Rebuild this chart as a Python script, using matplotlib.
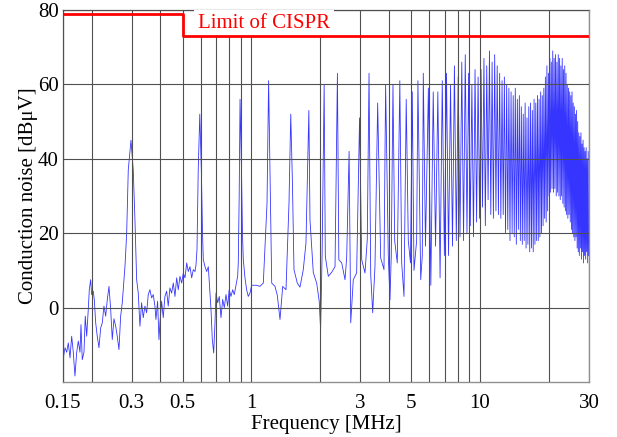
import numpy as np
import matplotlib
matplotlib.use("Agg")
import matplotlib.pyplot as plt

plt.rcParams['font.family'] = ['Liberation Serif', 'DejaVu Serif']

# fundamental of the harmonic series [MHz]
f0 = 0.2975

# top of every harmonic, n = 1..100 [dBuV]
peak_db = [45, 52, 56, 61, 52, 53, 60, 63, 42, 51,
           63, 55, 60, 60, 61, 56, 58, 61, 63, 59,
           58, 58, 61, 63, 60, 65, 62, 66, 68, 63,
           60, 64, 62, 64, 67, 65, 69, 66, 68, 65,
           63, 61, 62, 60, 59, 58, 57, 59, 56, 57,
           54, 52, 55, 51, 54, 55, 53, 56, 55, 57,
           56, 58, 57, 59, 62, 65, 63, 67, 66, 69,
           67, 68, 66, 68, 67, 65, 67, 64, 65, 63,
           60, 59, 58, 57, 58, 55, 54, 52, 53, 50,
           47, 46, 47, 44, 45, 43, 42, 43, 40, 42]

# noise floor between the lower harmonics
floor_mhz = [0.1505, 0.1531, 0.1557, 0.1582, 0.1610, 0.1637, 0.1664, 0.1692, 0.1722, 0.1750,
             0.1780, 0.1798, 0.1821, 0.1853, 0.1877, 0.1904, 0.1935, 0.1955, 0.1982, 0.2002,
             0.2035, 0.2056, 0.2085, 0.2118, 0.2155, 0.2192, 0.2228, 0.2266, 0.2306, 0.2343,
             0.2384, 0.2425, 0.2464, 0.2506, 0.2550, 0.2591, 0.2636, 0.2681, 0.2725, 0.2752,
             0.2800, 0.2849, 0.2895,
             0.3044, 0.3096, 0.3150, 0.3201, 0.3256, 0.3311, 0.3366, 0.3424, 0.3484, 0.3540,
             0.3601, 0.3663, 0.3723, 0.3787, 0.3825, 0.3890, 0.3943, 0.3983, 0.4051, 0.4117,
             0.4188, 0.4261, 0.4330, 0.4404, 0.4480, 0.4555, 0.4634, 0.4714, 0.4790, 0.4873,
             0.4957, 0.5040, 0.5127, 0.5215, 0.5300, 0.5391, 0.5484, 0.5574, 0.5670, 0.5727,
             0.5785, 0.5857,
             0.6044, 0.6115, 0.6164, 0.6271, 0.6376, 0.6483, 0.6594, 0.6661, 0.6749, 0.6844,
             0.6935, 0.7005, 0.7124, 0.7242, 0.7367, 0.7494, 0.7616, 0.7747, 0.7878, 0.8002,
             0.8147, 0.8288, 0.8422, 0.8567, 0.8712, 0.8768, 0.8848,
             0.9055, 0.9145, 0.9220, 0.9380, 0.9537, 0.9696, 0.9864, 1.0034, 1.0197, 1.0548,
             1.0909, 1.1282, 1.1711,
             1.2069, 1.2278, 1.2693, 1.299, 1.3348, 1.3717, 1.4178, 1.4612,
             1.5134, 1.5367, 1.5886, 1.6323, 1.6875, 1.734,
             1.8052, 1.8668, 1.931, 1.9815, 2.0094, 2.0403,
             2.1069, 2.1716, 2.2471, 2.3235,
             2.414, 2.4855, 2.5692, 2.6125,
             2.7216, 2.7927, 2.8887,
             3.039, 3.1417, 3.2152,
             3.328, 3.395, 3.4743,
             3.6795, 3.8046,
             3.973, 4.0415, 4.0943,
             4.2378, 4.35,
             4.547, 4.654,
             4.86, 4.969,
             5.147, 5.2866,
             5.507, 5.5965,
             5.7788]
floor_db = [-13.5, -10.8, -12, -9.5, -13.5, -7.7, -12, -18.4, -12, -9,
            -12, -4.6, -14, -12, -2.3, -7.7, -0.5, 4.8, 7.5, 3.5,
            4.4, 2.1, -4.1, -7.7, -10.8, -5.5, -4.1, 0.4, -2.3, 2.1,
            5.7, -0.5, -8.6, -3, -5, -7.7, -11.3, -2.3, 1.3, 4.8,
            11, 20, 37,
            37, 23.6, 7.5, 3.9, -5, 1.3, -2.7, 0.4, -1.4, 3.5,
            4.8, 2.6, 3.5, 0.4, -3.2, 1.7, -8.6, -4.1, 1.7, -2.7,
            3, 4.4, 0.4, 5.3, 3.9, 6.6, 3, 8, 4.8, 8.4,
            6.6, 9.3, 8, 12, 9.7, 11, 8, 10.2, 9.7, 11.5,
            15.6, 37,
            37, 20, 12.9, 11, 9.7, 11, 3.5, -0.5, -8.6, -12.2,
            -4, 3.9, 1.3, 3, -2.7, 2.2, 0, 3.5, 0.4, 4.8,
            3, 4.8, 3.5, 6, 8.4, 12, 30,
            37, 20, 13, 8, 4.8, 3, 3.9, 6, 6, 6,
            5.7, 6.6, 28,
            37, 6.6, 5.7, 3.3, -3.2, 5.7, 4.8, 28,
            33, 10.2, 6.6, 5.5, 10.2, 17.4,
            23.6, 9.4, 6.6, 1.7, -5.9, 14.7,
            13.8, 8.4, 9.5, 11,
            12.9, 12, 7.5, 13.4,
            -4.1, 7.5, 9.3,
            12.9, 9.3, 18.3,
            9, -1.4, 11,
            13.4, 10.2,
            14, 2.1, 14,
            18, 12,
            12, 3,
            18, 12,
            10, 18,
            7.5, 14,
            16.5]

# dip between harmonic n and n+1, n = 20..100
valley_db = [6, 16.5, 8, 14, 14, 16.5, 18, 19, 18, 20,
             22, 19, 23, 24, 27, 22, 29, 25, 24, 26,
             25, 24, 25, 20, 21, 18, 20, 19, 17, 21,
             18, 17, 18, 16, 17, 15, 16, 15, 17, 18,
             18, 19, 20, 22, 24, 23, 26, 30, 31, 32,
             31, 32, 30, 31, 30, 29, 30, 28, 27, 26,
             25, 24, 25, 23, 21, 20, 19, 18, 19, 16,
             15, 14, 16, 13, 15, 12, 14, 13, 15, 12, 14]

limit_mhz = [0.15, 0.5, 30]
limit_db = [79, 73, 73]

xtick_vals = [0.15, 0.3, 0.5, 1, 3, 5, 10, 30]
xtick_labels = ['0.15', '0.3', '0.5', '1', '3', '5', '10', '30']
grid_mhz = [0.2, 0.4, 0.6, 0.7, 0.8, 0.9, 2, 4, 6, 7, 8, 9, 20]

# put the trace together: floor, harmonic tops, dips between the dense harmonics
harm = np.arange(1, len(peak_db) + 1)
dip_n = np.arange(20, 20 + len(valley_db)) + 0.5
f = np.concatenate([floor_mhz, harm * f0, dip_n * f0])
level = np.concatenate([floor_db, peak_db, valley_db])
order = np.argsort(f)
f = f[order]
level = level[order]
keep = f <= 30
f = f[keep]
level = level[keep]

fig = plt.figure(figsize=(6.17, 4.37), dpi=100)
ax = fig.add_axes([0.1021, 0.1259, 0.8525, 0.8512])

ax.plot(f, level, color='#3535ff', lw=0.6, zorder=2)
ax.step(limit_mhz, limit_db, where='post', color='#ff0000', lw=2.0, zorder=5)

ax.text(0.583, 75.2, 'Limit of CISPR', color='#ff0000', fontsize=15,
        va='baseline', ha='left', zorder=4,
        bbox=dict(facecolor='white', edgecolor='none', pad=3))

ax.set_xscale('log')
ax.set_xlim(0.15, 30)
ax.set_ylim(-20, 80)

ax.set_xticks(xtick_vals)
ax.set_xticklabels(xtick_labels)
ax.set_xticks(grid_mhz, minor=True)
ax.xaxis.set_minor_formatter(matplotlib.ticker.NullFormatter())
ax.set_yticks([0, 20, 40, 60, 80])

ax.tick_params(axis='both', which='both', length=0, labelsize=15)
ax.tick_params(axis='x', pad=9)
ax.tick_params(axis='y', pad=3)

ax.grid(True, axis='x', which='both', color='#505050', lw=0.8)
ax.grid(True, axis='y', which='major', color='#505050', lw=0.8)
ax.set_axisbelow(False)

for s in ax.spines.values():
    s.set_color('#909090')
    s.set_linewidth(1.0)

ax.set_xlabel('Frequency [MHz]', fontsize=15, labelpad=1)
ax.set_ylabel('Conduction noise [dBμV]', fontsize=15, labelpad=0)

fig.savefig('out.png', dpi=100)
